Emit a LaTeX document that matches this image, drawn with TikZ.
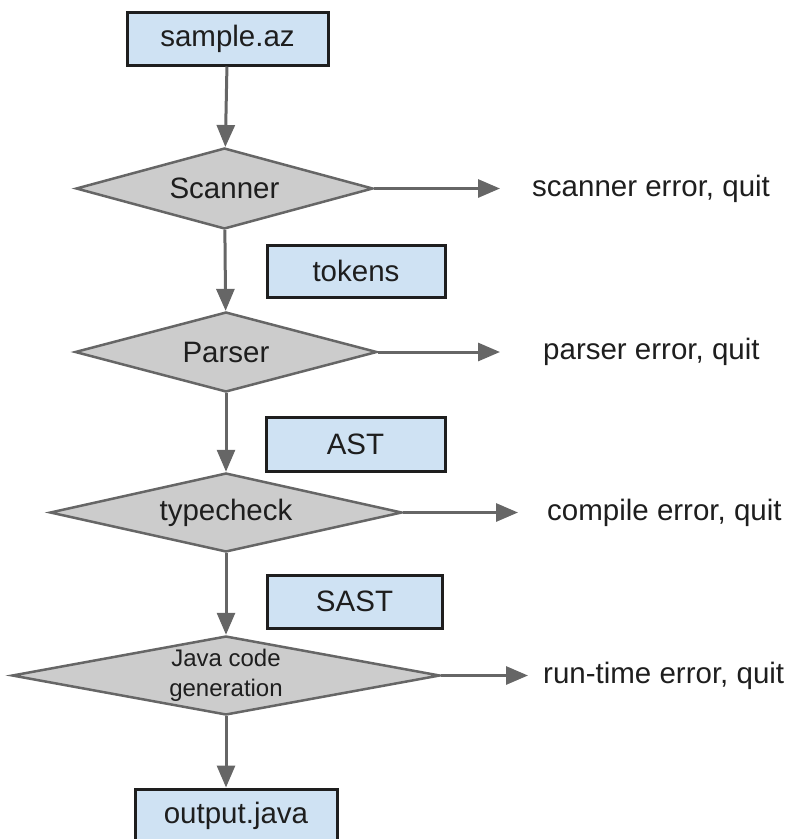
\documentclass[tikz,border=0pt]{standalone}
\usepackage{fontspec}
\setmainfont{Liberation Sans}
\usetikzlibrary{shapes.geometric,arrows.meta}
\definecolor{boxblue}{HTML}{CFE2F3}
\definecolor{diagrey}{HTML}{CCCCCC}
\definecolor{linegrey}{HTML}{666666}
\definecolor{inkgrey}{HTML}{1E1E1E}
\begin{document}
\begin{tikzpicture}[x=1pt,y=-1pt]
\tikzstyle{every node}=[font=\fontsize{29.5}{34}\selectfont, text=inkgrey]
\tikzstyle{data}=[draw=inkgrey, line width=3pt, fill=boxblue, inner sep=0pt]
\tikzstyle{stage}=[diamond, aspect=5, draw=linegrey, line width=2.5pt, fill=diagrey, inner sep=0pt]
\tikzstyle{flow}=[draw=linegrey, line width=3pt, -{Triangle[length=22pt,width=18pt]}]
\tikzstyle{errmsg}=[anchor=west, inner sep=0pt]

% fix the page size
\useasboundingbox (0,0) rectangle (795,839);

% data boxes
\node[data, minimum width=201, minimum height=53] (src) at (227.5,38.5) {sample.az};
\node[data, minimum width=178, minimum height=52] (tokens) at (356,271) {tokens};
\node[data, minimum width=179, minimum height=54] (ast) at (355.5,444) {AST};
\node[data, minimum width=175, minimum height=53] (sast) at (354.5,601.5) {SAST};
\node[data, minimum width=202, minimum height=53] (out) at (236,815.5) {output.java};

% compiler stages
\node[stage, minimum width=297, minimum height=81] (scan) at (224.5,188.5) {Scanner};
\node[stage, minimum width=302, minimum height=80] (pars) at (226,352) {Parser};
\node[stage, minimum width=352, minimum height=79] (tc) at (226,512.5) {typecheck};
\node[stage, minimum width=428, minimum height=79, align=center,
      font=\fontsize{24}{30}\selectfont] (gen) at (226,675.5) {Java code\\generation};

% error messages
\node[errmsg] (scanerr) at (532,188.5) {scanner error, quit};
\node[errmsg] (parserr) at (543,352) {parser error, quit};
\node[errmsg] (comperr) at (547,512.5) {compile error, quit};
\node[errmsg] (runerr) at (543,675.5) {run-time error, quit};

% main flow
\foreach \a/\b in {src/scan, scan/pars, pars/tc, tc/gen}
	\draw[flow] (\a) -- (\b);
\draw[flow] (gen.south) -- (gen.south |- out.north);

% error exits
\foreach \a/\b/\g in {scan/scanerr/32pt, pars/parserr/43pt, tc/comperr/29pt, gen/runerr/15pt}
	\draw[flow, shorten >=\g] (\a.east) -- (\b.west);

\end{tikzpicture}
\end{document}
